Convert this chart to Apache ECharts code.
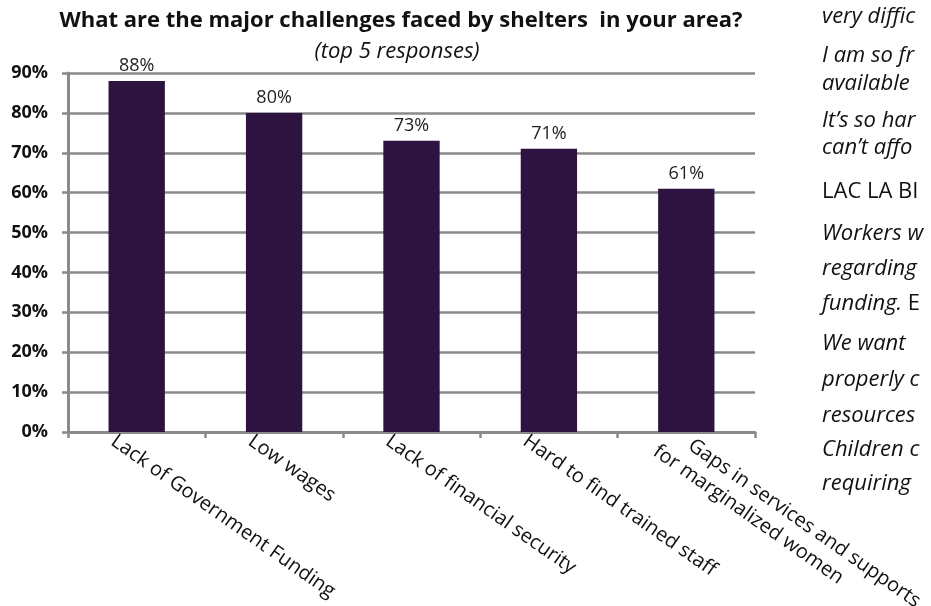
<!DOCTYPE html>
<html><head><meta charset="utf-8">
<script src="https://cdn.jsdelivr.net/npm/echarts@6/dist/echarts.min.js"></script>
<style>html,body{margin:0;padding:0;background:#fff}#c{width:931px;height:606px}</style>
</head><body><div id="c"></div>
<script>
// ---- data ----
const categories = [
  'Lack of Government Funding',
  'Low wages',
  'Lack of financial security',
  'Hard to find trained staff',
  'Gaps in services and supports\nfor marginalized women'
];
const values = [88, 80, 73, 71, 61];
const yMin = 0, yMax = 90, yStep = 10;
const titleText = 'What are the major challenges faced by shelters  in your area?';
const subtitleText = '(top 5 responses)';
// cropped document text at right (visible parts); 'n' = upright, 'i' = italic, 'm' = mixed
const sideLines = [
  ['i', 'very diffic'],
  ['i', 'I am so fr'],
  ['i', 'available'],
  ['i', 'It\u2019s so har'],
  ['i', 'can\u2019t affo'],
  ['n', 'LAC LA BI'],
  ['i', 'Workers w'],
  ['i', 'regarding'],
  ['m', 'funding.|E'],
  ['i', 'We want'],
  ['i', 'properly c'],
  ['i', 'resources'],
  ['i', 'Children c'],
  ['i', 'requiring']
];

// ---- layout ----
const FONT = '"Open Sans", Lato, sans-serif';
const sideBaselines = [25, 64, 92, 129, 156, 200, 242, 277, 312, 352, 388, 424, 458, 492];
const sideX = 822, sideSize = 22;

const chart = echarts.init(document.getElementById('c'), null, {renderer: 'canvas'});

const sideGraphics = sideLines.map((l, i) => {
  const y = sideBaselines[i] - 8;
  let text;
  if (l[0] === 'm') {
    const parts = l[1].split('|');
    text = '{a|' + parts[0] + '} {b|' + parts[1] + '}';
  } else {
    text = (l[0] === 'i' ? '{a|' : '{b|') + l[1] + '}';
  }
  return {
    type: 'text', x: sideX, y: y,
    style: {
      text: text,
      rich: {
        a: {fontFamily: FONT, fontSize: sideSize, fontStyle: 'italic', fill: '#111'},
        b: {fontFamily: FONT, fontSize: sideSize, fontStyle: 'normal', fill: '#111'}
      },
      fontFamily: FONT, fontSize: sideSize,
      fill: '#111', verticalAlign: 'middle', align: 'left'
    }
  };
});

const GRID = '#8a8a8a';

chart.setOption({
  backgroundColor: '#ffffff',
  animation: false,
  grid: {left: 68, right: 176, top: 73, bottom: 174, containLabel: false, outerBoundsMode: 'none'},
  graphic: [
    {type: 'text', x: 401, y: 21, style: {text: titleText, fontFamily: FONT, fontWeight: 'bold', fontSize: 22, fill: '#111', align: 'center', verticalAlign: 'middle'}},
    {type: 'text', x: 397, y: 52, style: {text: subtitleText, fontFamily: FONT, fontStyle: 'italic', fontSize: 22, fill: '#111', align: 'center', verticalAlign: 'middle'}}
  ].concat(sideGraphics),
  xAxis: {
    type: 'category',
    data: categories,
    boundaryGap: true,
    axisLine: {show: true, lineStyle: {color: GRID, width: 3}},
    axisTick: {show: true, length: 6, alignWithLabel: false, lineStyle: {color: GRID, width: 2.5}},
    axisLabel: {
      interval: 0,
      rotate: -35,
      margin: 24,
      padding: [0, 0, 0, -29],
      color: '#111',
      fontFamily: FONT,
      fontSize: 20,
      formatter: function (v) {
        const parts = v.split('\n');
        if (parts.length > 1) return '{a|' + parts[0] + '}\n{b|' + parts[1] + '}';
        return '{b|' + v + '}';
      },
      rich: {
        a: {fontFamily: FONT, fontSize: 20, color: '#111', lineHeight: 25, padding: [0, 0, 0, 25]},
        b: {fontFamily: FONT, fontSize: 20, color: '#111', lineHeight: 25}
      }
    }
  },
  yAxis: {
    type: 'value',
    min: yMin, max: yMax, interval: yStep,
    axisLine: {show: true, lineStyle: {color: GRID, width: 3}},
    axisTick: {show: true, length: 6, lineStyle: {color: GRID, width: 2.5}},
    splitLine: {show: true, lineStyle: {color: GRID, width: 2.5}},
    axisLabel: {
      formatter: '{value}%',
      margin: 20,
      color: '#111',
      fontFamily: FONT,
      fontWeight: 'bold',
      fontSize: 18
    }
  },
  series: [{
    type: 'bar',
    data: values,
    barWidth: '41%',
    itemStyle: {color: '#2c1340'},
    label: {
      show: true,
      position: 'top',
      distance: 6,
      formatter: '{c}%',
      color: '#222',
      fontFamily: FONT,
      fontSize: 18
    }
  }]
});
</script>
</body></html>
